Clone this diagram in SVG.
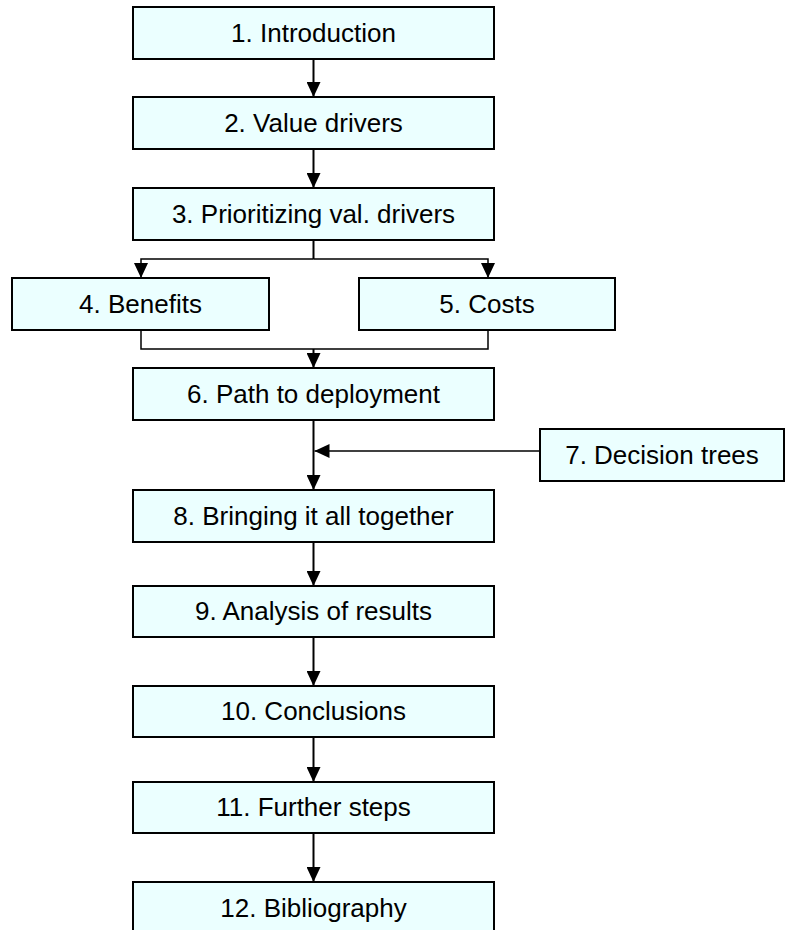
<svg xmlns="http://www.w3.org/2000/svg" width="786" height="930" viewBox="0 0 786 930">
  <style>
    .box { fill: #EBFFFF; stroke: #000; stroke-width: 2; }
    .lbl { font-family: "Liberation Sans", Arial, sans-serif; font-size: 26px; fill: #000; text-anchor: middle; }
    .wire { fill: none; stroke: #000; stroke-width: 2; }
    .thin { fill: none; stroke: #000; stroke-width: 1.5; }
  </style>
  <defs>
    <marker id="head" viewBox="0 0 15 14" refX="15" refY="7" markerWidth="15" markerHeight="14" markerUnits="userSpaceOnUse" orient="auto">
      <path d="M0,0 L15,7 L0,14 Z" fill="#000"/>
    </marker>
  </defs>

  <rect width="786" height="930" fill="#fff"/>

  <g id="connectors">
    <path class="wire" d="M313.5 59 V97" marker-end="url(#head)"/>
    <path class="wire" d="M313.5 149 V188" marker-end="url(#head)"/>
    <path class="wire" d="M313.5 240 V259"/>
    <path class="thin" d="M313.5 259 H141 V278" marker-end="url(#head)"/>
    <path class="thin" d="M313.5 259 H488 V278" marker-end="url(#head)"/>
    <path class="thin" d="M141 330 V349 H488 V330"/>
    <path class="wire" d="M313.5 349 V368" marker-end="url(#head)"/>
    <path class="wire" d="M313.5 420 V490" marker-end="url(#head)"/>
    <path class="thin" d="M540 451 H314.5" marker-end="url(#head)"/>
    <path class="wire" d="M313.5 542 V586" marker-end="url(#head)"/>
    <path class="wire" d="M313.5 637 V686" marker-end="url(#head)"/>
    <path class="wire" d="M313.5 737 V782" marker-end="url(#head)"/>
    <path class="wire" d="M313.5 833 V882" marker-end="url(#head)"/>
  </g>

  <g id="n1"><rect class="box" x="133" y="7" width="361" height="52"/><text class="lbl" x="313.5" y="42">1. Introduction</text></g>
  <g id="n2"><rect class="box" x="133" y="97" width="361" height="52"/><text class="lbl" x="313.5" y="132">2. Value drivers</text></g>
  <g id="n3"><rect class="box" x="133" y="188" width="361" height="52"/><text class="lbl" x="313.5" y="223">3. Prioritizing val. drivers</text></g>
  <g id="n4"><rect class="box" x="12" y="278" width="257" height="52"/><text class="lbl" x="140.5" y="313">4. Benefits</text></g>
  <g id="n5"><rect class="box" x="359" y="278" width="256" height="52"/><text class="lbl" x="487" y="313">5. Costs</text></g>
  <g id="n6"><rect class="box" x="133" y="368" width="361" height="52"/><text class="lbl" x="313.5" y="403">6. Path to deployment</text></g>
  <g id="n7"><rect class="box" x="540" y="429" width="244" height="52"/><text class="lbl" x="662" y="464">7. Decision trees</text></g>
  <g id="n8"><rect class="box" x="133" y="490" width="361" height="52"/><text class="lbl" x="313.5" y="525">8. Bringing it all together</text></g>
  <g id="n9"><rect class="box" x="133" y="586" width="361" height="51"/><text class="lbl" x="313.5" y="620">9. Analysis of results</text></g>
  <g id="n10"><rect class="box" x="133" y="686" width="361" height="51"/><text class="lbl" x="313.5" y="720">10. Conclusions</text></g>
  <g id="n11"><rect class="box" x="133" y="782" width="361" height="51"/><text class="lbl" x="313.5" y="816">11. Further steps</text></g>
  <g id="n12"><rect class="box" x="133" y="882" width="361" height="52"/><text class="lbl" x="313.5" y="917">12. Bibliography</text></g>
</svg>
